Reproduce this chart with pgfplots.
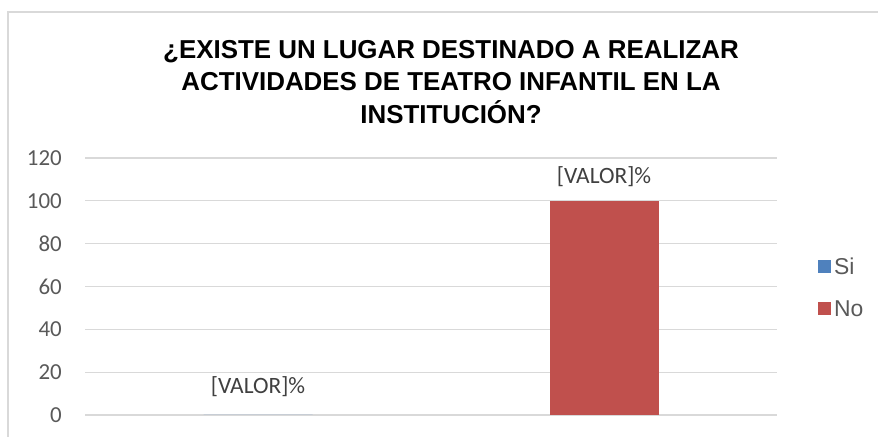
\documentclass[border=0pt]{standalone}
\usepackage{fontspec}
\setmainfont{Liberation Sans}
\newfontfamily\calibri{Carlito}
\usepackage{pgfplots}
\pgfplotsset{compat=1.18}
\definecolor{siblue}{HTML}{4F81BD}
\definecolor{nored}{HTML}{C0504D}
\definecolor{gridgray}{HTML}{D9D9D9}
\definecolor{ticktext}{HTML}{595959}
\definecolor{labeltext}{HTML}{404040}
\begin{document}
\begin{tikzpicture}[x=1bp,y=1bp]
\useasboundingbox (0,0) rectangle (878,437);
\clip (0,0) rectangle (878,437);
\draw[gridgray, line width=1.5bp] (8,-20) rectangle (900,425);
\node[font=\bfseries\fontsize{26}{33}\selectfont, align=center, anchor=center] at (451,355)
  {¿EXISTE UN LUGAR DESTINADO A REALIZAR\\ACTIVIDADES DE TEATRO INFANTIL EN LA\\INSTITUCIÓN?};
\begin{axis}[
  at={(85bp,22bp)}, anchor=south west,
  width=692bp, height=257bp, scale only axis,
  xmin=-0.5, xmax=1.5, ymin=0, ymax=120,
  ytick={0,20,...,120}, xtick=\empty,
  axis line style={draw=none},
  ymajorgrids, grid style={gridgray, line width=1.3bp},
  major tick length=0pt,
  yticklabel style={font=\calibri\fontsize{23}{23}\selectfont, text=ticktext, anchor=east, inner sep=0pt, xshift=-23bp},
  /pgf/number format/assume math mode=true,
  ybar, bar width=109bp,
  clip=false,
  legend style={at={(1.059,0.498)}, anchor=west, draw=none, fill=none,
    font=\fontsize{23}{23}\selectfont, text=ticktext, inner sep=0pt,
    row sep=25bp, column sep=3bp,
    nodes={inner sep=0pt, text height=17bp, text depth=0pt}},
  legend cell align=left,
  legend image code/.code={\fill[#1] (0bp,-6.5bp) rectangle (13bp,6.5bp);},
]
\addplot[fill=siblue, draw=none, bar shift=0pt,
  nodes near coords={[VALOR]\%},
  nodes near coords style={font=\calibri\fontsize{23.5}{23.5}\selectfont, text=labeltext, anchor=center, yshift=28bp}]
  coordinates {(0,0)};
\addlegendentry{Si}
\addplot[fill=nored, draw=none, bar shift=0pt,
  nodes near coords={[VALOR]\%},
  nodes near coords style={font=\calibri\fontsize{23.5}{23.5}\selectfont, text=labeltext, anchor=center, yshift=24bp}]
  coordinates {(1,100)};
\addlegendentry{No}
\end{axis}
\end{tikzpicture}
\end{document}
